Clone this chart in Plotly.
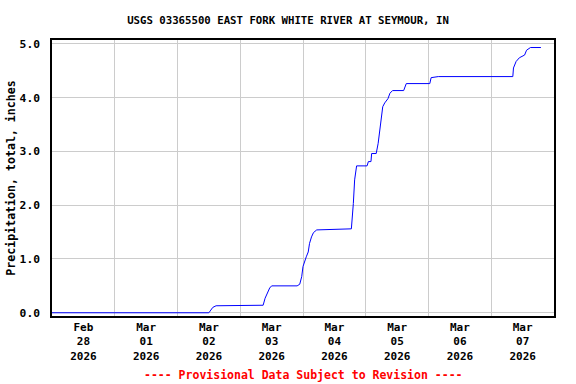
import plotly.graph_objects as go
import pandas as pd

# Precipitation, total (inches)
times = [
    "2026-02-28 00:00", "2026-03-02 12:00", "2026-03-02 12:45", "2026-03-02 13:30",
    "2026-03-02 14:45", "2026-03-03 08:45", "2026-03-03 09:30", "2026-03-03 10:00",
    "2026-03-03 10:45", "2026-03-03 11:15", "2026-03-03 12:00", "2026-03-03 21:45",
    "2026-03-03 22:45", "2026-03-03 23:30", "2026-03-04 00:00", "2026-03-04 00:45",
    "2026-03-04 01:15", "2026-03-04 02:00", "2026-03-04 02:30", "2026-03-04 03:15",
    "2026-03-04 04:00", "2026-03-04 05:15", "2026-03-04 14:00", "2026-03-04 18:30",
    "2026-03-04 19:15", "2026-03-04 19:45", "2026-03-04 20:30", "2026-03-05 00:30",
    "2026-03-05 01:00", "2026-03-05 02:00", "2026-03-05 02:15", "2026-03-05 04:00",
    "2026-03-05 04:45", "2026-03-05 05:15", "2026-03-05 06:00", "2026-03-05 06:30",
    "2026-03-05 07:15", "2026-03-05 08:00", "2026-03-05 08:30", "2026-03-05 09:15",
    "2026-03-05 10:15", "2026-03-05 14:30", "2026-03-05 15:30", "2026-03-06 00:30",
    "2026-03-06 01:00", "2026-03-06 03:45", "2026-03-07 08:15", "2026-03-07 08:30",
    "2026-03-07 09:30", "2026-03-07 10:45", "2026-03-07 12:45", "2026-03-07 13:30",
    "2026-03-07 15:00", "2026-03-07 19:00",
]
precip = [
    0.00, 0.00, 0.05, 0.10,
    0.13, 0.14, 0.27, 0.33,
    0.39, 0.46, 0.50, 0.50,
    0.53, 0.67, 0.86, 0.98,
    1.04, 1.13, 1.29, 1.41,
    1.49, 1.54, 1.56, 1.56,
    2.03, 2.47, 2.73, 2.73,
    2.81, 2.81, 2.96, 2.96,
    3.15, 3.33, 3.58, 3.83,
    3.90, 3.94, 3.98, 4.08,
    4.13, 4.13, 4.26, 4.26,
    4.37, 4.39, 4.39, 4.55,
    4.67, 4.74, 4.79, 4.88,
    4.93, 4.93,
]

day_ticks = ["2026-02-28 12:00", "2026-03-01 12:00", "2026-03-02 12:00", "2026-03-03 12:00",
             "2026-03-04 12:00", "2026-03-05 12:00", "2026-03-06 12:00", "2026-03-07 12:00"]
day_labels = ["Feb<br>28<br>2026", "Mar<br>01<br>2026", "Mar<br>02<br>2026", "Mar<br>03<br>2026",
              "Mar<br>04<br>2026", "Mar<br>05<br>2026", "Mar<br>06<br>2026", "Mar<br>07<br>2026"]
midnights = ["2026-03-01", "2026-03-02", "2026-03-03", "2026-03-04",
             "2026-03-05", "2026-03-06", "2026-03-07"]
y_ticks = [0, 1, 2, 3, 4, 5]

FONT = "DejaVu Sans Mono"

fig = go.Figure()
fig.add_trace(go.Scatter(
    x=pd.to_datetime(times), y=precip, mode="lines",
    line=dict(color="#0000ff", width=1), showlegend=False,
))

fig.update_layout(
    width=576, height=384,
    margin=dict(l=52, r=22, t=40, b=68, autoexpand=False),
    paper_bgcolor="white", plot_bgcolor="white",
    font=dict(family=FONT, size=11, color="black", weight="bold"),
    title=dict(text="USGS 03365500 EAST FORK WHITE RIVER AT SEYMOUR, IN",
               x=0.5, xanchor="center", y=0.948, yanchor="middle",
               font=dict(family=FONT, size=10.7, color="black", weight="bold")),
    xaxis=dict(
        range=["2026-02-28 00:00", "2026-03-08 00:00"],
        automargin=False,
        tickmode="array", tickvals=day_ticks, ticktext=day_labels,
        showgrid=False, ticks="", zeroline=False,
        showline=True, linecolor="black", linewidth=1.5, mirror=True,
        minor=dict(tickmode="array", tickvals=midnights, showgrid=True,
                   gridcolor="#cccccc", gridwidth=1, ticks=""),
        tickfont=dict(family=FONT, size=11, weight="bold"),
    ),
    yaxis=dict(
        range=[-0.06, 5.07],
        automargin=False,
        tickmode="array", tickvals=y_ticks, tickformat=".1f",
        showgrid=True, gridcolor="#cccccc", gridwidth=1, zeroline=False,
        showline=True, linecolor="black", linewidth=1.5, mirror=True,
        ticks="outside", ticklen=8, tickcolor="rgba(0,0,0,0)",
        title=dict(text="Precipitation, total, inches", standoff=2,
                   font=dict(family=FONT, size=11.6, weight="bold")),
        tickfont=dict(family=FONT, size=11.3, weight="bold"),
    ),
)

fig.add_annotation(
    text="---- Provisional Data Subject to Revision ----",
    xref="paper", yref="paper", x=0.5, y=-0.214, xanchor="center", yanchor="middle",
    showarrow=False, font=dict(family=FONT, size=11.5, color="red", weight="bold"),
)

fig.write_html(
    "out.html",
    config={"displayModeBar": False},
    post_script="document.body.style.margin='0';document.body.style.padding='0';",
)
